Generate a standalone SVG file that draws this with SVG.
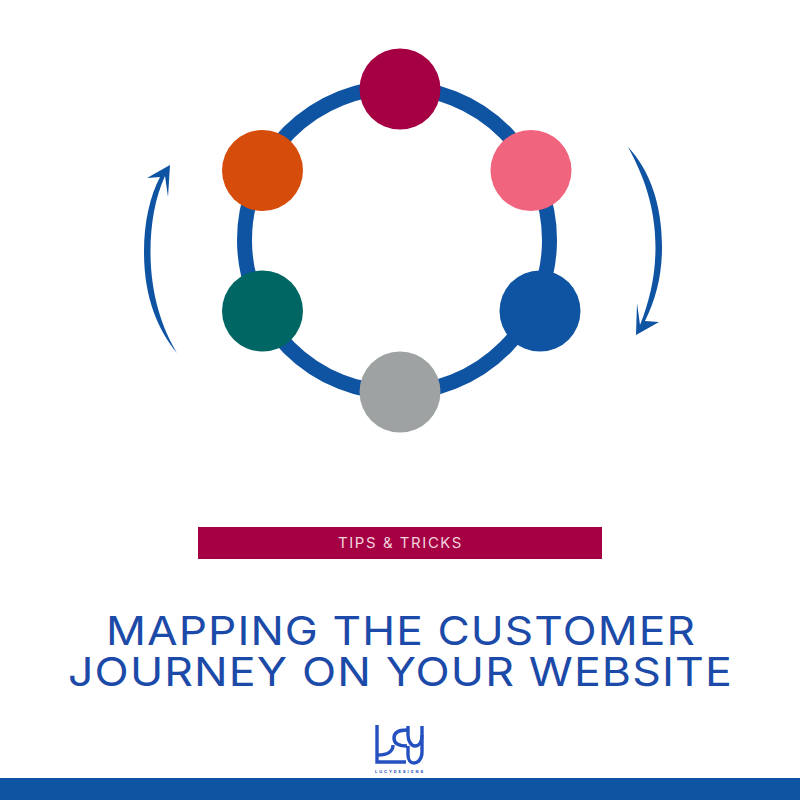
<svg xmlns="http://www.w3.org/2000/svg" width="800" height="800" viewBox="0 0 800 800">
<style>
.t{font-family:"Inter","Liberation Sans",sans-serif}
.title{font-size:40px;fill:#1c4aa8;font-weight:400}
.arrow{fill:#0f53a3}
.logo{fill:none;stroke:#2450c0;stroke-width:3.400}
</style>
<rect width="800" height="800" fill="#fff"/>
<g id="connectors">
<circle id="ring" cx="397" cy="240" r="152.500" fill="none" stroke="#0f53a3" stroke-width="15"/>
<path id="arrow-left" class="arrow" d="M177 353C158 330 144 298 144 252C144 222 150 196 160 177L147 178L170 165L168 197L165 176C155 198 150.500 224 150.500 252C150.500 294 162 328 177 353Z"/>
<path id="arrow-right" class="arrow" d="M628 147C650 170 662 205 662 247C662 275 656 299 645 321L659 322L636 335L637 303L640 325C650 300 655.500 275 655.500 247C655.500 208 644 176 628 147Z"/>
</g>
<g id="node-top"><circle cx="400" cy="89" r="40.500" fill="#a50044"/></g>
<g id="node-upper-right"><circle cx="531" cy="170.500" r="40.500" fill="#f0647d"/></g>
<g id="node-lower-right"><circle cx="540" cy="311" r="40.500" fill="#0f53a3"/></g>
<g id="node-bottom"><circle cx="400" cy="392" r="40.500" fill="#9ea2a2"/></g>
<g id="node-lower-left"><circle cx="262.500" cy="311" r="40.500" fill="#006663"/></g>
<g id="node-upper-left"><circle cx="262.500" cy="170.500" r="40.500" fill="#d64c0a"/></g>
<g id="banner">
<rect x="198" y="527" width="404" height="32" fill="#a50044"/>
<text class="t" x="338" y="548" font-size="14" letter-spacing="1.500" fill="#f3d5de" textLength="125" lengthAdjust="spacingAndGlyphs">TIPS &amp; TRICKS</text>
</g>
<g id="heading">
<text class="t title" letter-spacing="1"><tspan x="106" y="645" textLength="590" lengthAdjust="spacingAndGlyphs">MAPPING THE CUSTOMER</tspan><tspan x="68" y="686" textLength="665" lengthAdjust="spacingAndGlyphs">JOURNEY ON YOUR WEBSITE</tspan></text>
</g>
<g id="logo">
<path class="logo" d="M377 725V762H406"/>
<path class="logo" d="M378 755C388 755 393 751 393 745"/>
<path class="logo" d="M407 730C398 730 394 733 394 738C394 743 398 746 407 746"/>
<path class="logo" d="M408 726V735C408 742 412 746 415 746C419 746 422 742 422 735V726"/>
<path class="logo" d="M422 735V752C422 759 418 763 414 763C410 763 408 759 408 755V746"/>
<text class="t" x="375" y="773" font-size="4" font-weight="700" fill="#2450c0" textLength="48" lengthAdjust="spacing">LUCYDESIGNS</text>
</g>
<rect id="footer-bar" x="0" y="778" width="800" height="22" fill="#0f53a3"/>
</svg>
